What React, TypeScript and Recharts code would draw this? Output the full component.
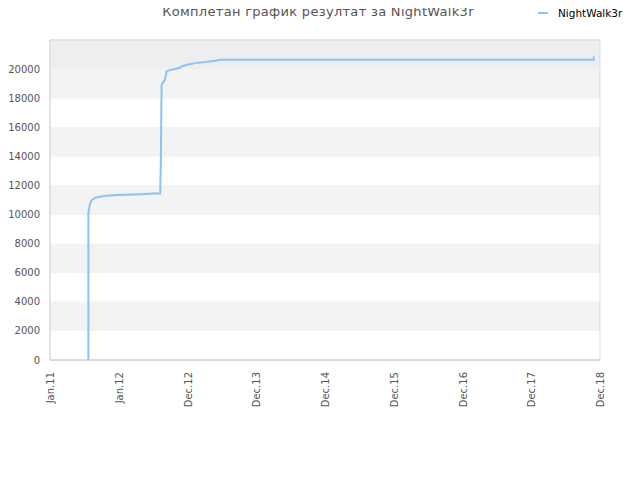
import React from 'react';
import { LineChart, Line, XAxis, YAxis, CartesianGrid, ReferenceArea } from 'recharts';

// days since Jan 1 2011
const days = [204, 204, 208, 212, 218, 223, 232, 239, 265, 297, 356, 488, 542, 586, 587, 588, 592, 593, 596, 610, 620, 637, 664, 690, 701, 743, 770, 823, 870, 905, 2888, 2890];
const scores = [0, 10070, 10450, 10700, 10900, 11000, 11080, 11150, 11220, 11300, 11340, 11400, 11440, 11440, 12650, 12700, 17800, 18950, 19000, 19250, 19860, 19930, 20000, 20090, 20200, 20340, 20410, 20480, 20560, 20640, 20640, 20880];

const xTicks = [0, 365, 731, 1096, 1461, 1826, 2192, 2557, 2922];
const xLabels = ['Jan.11', 'Jan.12', 'Dec.12', 'Dec.13', 'Dec.14', 'Dec.15', 'Dec.16', 'Dec.17', 'Dec.18'];
const yTicks = [0, 2000, 4000, 6000, 8000, 10000, 12000, 14000, 16000, 18000, 20000];
const yMax = 22000;

const data = days.map((d, i) => ({ day: d, NightWalk3r: scores[i] }));

const font = '"DejaVu Sans", sans-serif';

const XTick = (props: any) => {
    const { x, y, payload } = props;
    const i = xTicks.indexOf(payload.value);
    return (
        <text x={x} y={y} transform={`rotate(-90, ${x}, ${y})`} textAnchor="end" dy={4}
            fill="#555" fontSize={10} fontFamily={font}>
            {xLabels[i]}
        </text>
    );
};

export default function App() {
    const bands = yTicks.map((t, i) => ({
        y1: t,
        y2: i + 1 < yTicks.length ? yTicks[i + 1] : yMax,
        fill: i === yTicks.length - 1 ? '#eeeeee' : i % 2 === 1 ? '#f3f3f3' : '#ffffff',
    }));

    return (
        <div style={{ position: 'relative', width: 632, height: 472, fontFamily: font }}>
            <div style={{ position: 'absolute', top: -4, left: -8, width: 636, textAlign: 'center', fontSize: 13, letterSpacing: 0.3, color: '#555' }}>
                Комплетан график резултат за NightWalk3r
            </div>
            <div style={{ position: 'absolute', top: -1, left: 530, fontSize: 10.5, color: '#000', display: 'flex', alignItems: 'center' }}>
                <span style={{ display: 'inline-block', width: 10, height: 2, background: '#8fc1f2', marginRight: 10 }} />
                NightWalk3r
            </div>
            <LineChart width={632} height={472} data={data} margin={{ top: 32, right: 40, left: 0, bottom: 60 }}>
                {bands.map((b) => (
                    <ReferenceArea key={b.y1} y1={b.y1} y2={b.y2} fill={b.fill} fillOpacity={1} stroke="none" ifOverflow="visible" />
                ))}
                <CartesianGrid vertical={false} stroke="#dddddd" />
                <ReferenceArea x1={0} x2={2922} y1={0} y2={yMax} fill="none" stroke="#d8d8d8" ifOverflow="visible" />
                <XAxis dataKey="day" type="number" domain={[0, 2922]} ticks={xTicks} interval={0}
                    tick={<XTick />} tickLine={false} axisLine={{ stroke: '#cccccc' }} height={60} tickMargin={6} />
                <YAxis type="number" domain={[0, yMax]} ticks={yTicks} width={42} tickLine={false}
                    axisLine={{ stroke: '#dddddd' }} tick={{ fill: '#555', fontSize: 10, fontFamily: font }} tickMargin={4} />
                <Line type="linear" dataKey="NightWalk3r" stroke="#8fc1f2" strokeWidth={2} dot={false} isAnimationActive={false} />
            </LineChart>
        </div>
    );
}
